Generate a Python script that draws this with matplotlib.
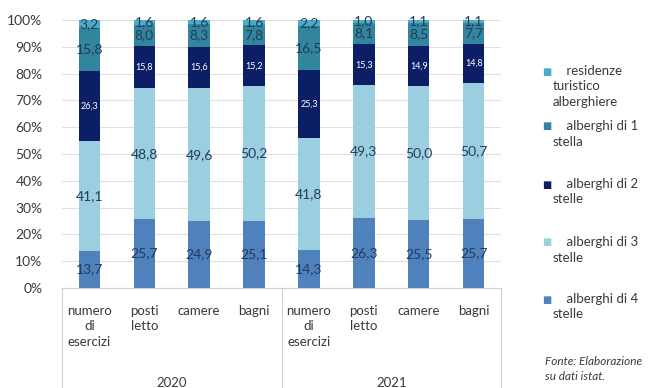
import matplotlib.pyplot as plt
import numpy as np

# categorie e serie (percentuali)
categories = ["numero\ndi\nesercizi", "posti\nletto", "camere", "bagni",
              "numero\ndi\nesercizi", "posti\nletto", "camere", "bagni"]
years = ["2020", "2021"]

stelle4 = [13.7, 25.7, 24.9, 25.1, 14.3, 26.3, 25.5, 25.7]
stelle3 = [41.1, 48.8, 49.6, 50.2, 41.8, 49.3, 50.0, 50.7]
stelle2 = [26.3, 15.8, 15.6, 15.2, 25.3, 15.3, 14.9, 14.8]
stella1 = [15.8, 8.0, 8.3, 7.8, 16.5, 8.1, 8.5, 7.7]
residenze = [3.2, 1.6, 1.6, 1.6, 2.2, 1.0, 1.1, 1.1]

series = [stelle4, stelle3, stelle2, stella1, residenze]
names = ["alberghi di 4\nstelle", "alberghi di 3\nstelle", "alberghi di 2\nstelle",
         "alberghi di 1\nstella", "residenze\nturistico\nalberghiere"]
colors = ["#4f81bd", "#9bcfe0", "#0c1f66", "#31859c", "#4bacc6"]

plt.rcParams['font.family'] = ['Lato', 'DejaVu Sans']
txt = "#3a3a3a"
lab = "#253a5c"

fig = plt.figure(figsize=(6.5, 3.88), dpi=100)
ax = fig.add_axes([0.0954, 0.2577, 0.6754, 0.6907])

x = np.arange(len(categories))
bottom = np.zeros(len(categories))
for i, (vals, c) in enumerate(zip(series, colors)):
    vals = np.array(vals)
    ax.bar(x, vals, 0.39, bottom=bottom, color=c, zorder=2)
    for xi, b, v in zip(x, bottom, vals):
        s = f"{v:.1f}".replace('.', ',')
        if i == 2:
            ax.text(xi, b + v / 2, s, ha='center', va='center', color='white',
                    fontsize=6.5, zorder=3)
        else:
            ax.text(xi, b + v / 2, s, ha='center', va='center', color=lab,
                    fontsize=10, zorder=3)
    bottom += vals

ax.set_xlim(-0.5, 7.5)
ax.set_ylim(0, 100)
ax.set_yticks(np.arange(0, 101, 10))
ax.set_yticklabels([f"{v}%" for v in range(0, 101, 10)], fontsize=10, color=txt)
ax.tick_params(axis='y', length=0, pad=14)
ax.yaxis.grid(True, color="#e0e0e0", lw=0.8, zorder=0)
for s in ['top', 'right', 'left']:
    ax.spines[s].set_visible(False)
ax.spines['bottom'].set_color("#d0d0d0")

ax.set_xticks(x)
ax.set_xticklabels(categories, fontsize=9.5, color=txt, linespacing=1.35)
ax.tick_params(axis='x', length=0, pad=12)

# separatori gruppi e anni
for xs in [-0.5, 3.5, 7.5]:
    ax.plot([xs, xs], [0, -0.4], transform=ax.get_xaxis_transform(),
            color="#d0d0d0", lw=0.8, clip_on=False)
for gx, yr in zip([1.5, 5.5], years):
    ax.text(gx, -0.353, yr, transform=ax.get_xaxis_transform(),
            ha='center', va='center', fontsize=9.5, color=txt)

# legenda manuale
leg_y = [72, 127, 185, 243, 300]
for yy, nm, c in zip(leg_y, names[::-1], colors[::-1]):
    fig.text(547 / 650, 1 - yy / 388, "■", color=c, fontsize=7,
             ha='center', va='center')
    fig.text(553 / 650, 1 - (yy - 7) / 388, "    " + nm, fontsize=9.5, color=txt,
             ha='left', va='top', linespacing=1.35)

fig.text(545 / 650, 1 - 356 / 388, "Fonte: Elaborazione\nsu dati istat.",
         fontsize=8.5, style='italic', color=txt, ha='left', va='top',
         linespacing=1.5)

fig.savefig("out.png", dpi=100)
